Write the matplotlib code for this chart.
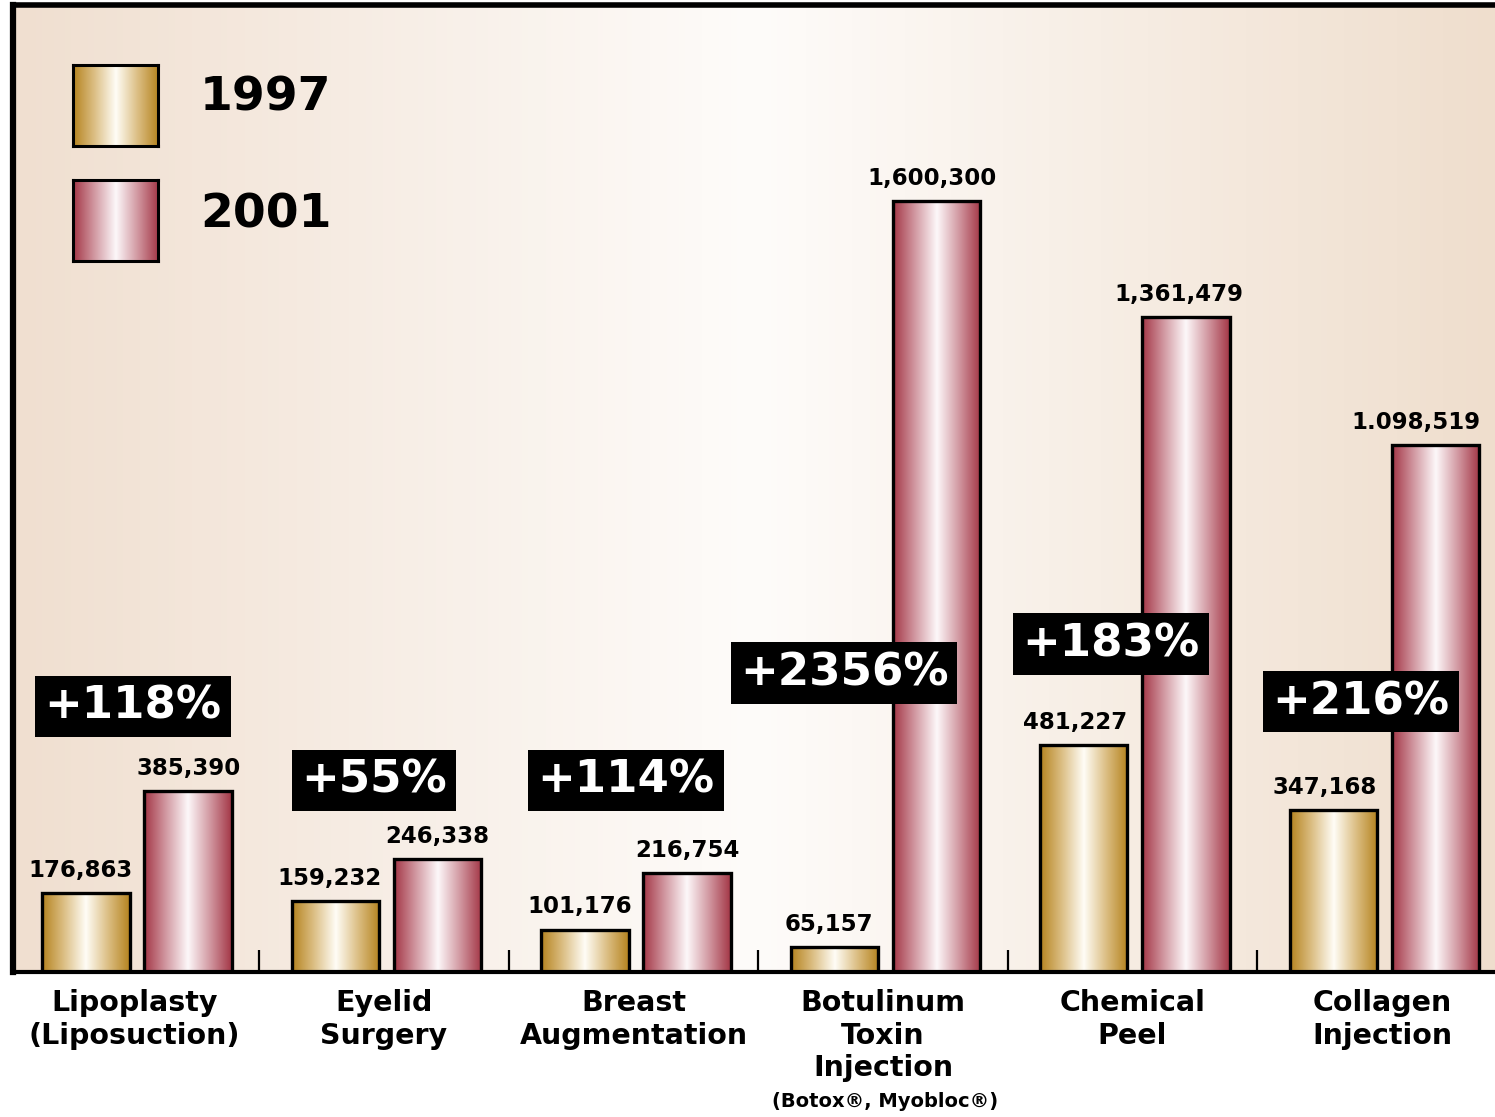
import numpy as np
import matplotlib
matplotlib.use("Agg")
import matplotlib.pyplot as plt
from matplotlib.colors import LinearSegmentedColormap
from matplotlib.transforms import blended_transform_factory

# data
categories = ["Lipoplasty\n(Liposuction)", "Eyelid\nSurgery", "Breast\nAugmentation",
              "Botulinum\nToxin\nInjection", "Chemical\nPeel", "Collagen\nInjection"]
series = ["1997", "2001"]
v1997 = [176863, 159232, 101176, 65157, 481227, 347168]
v2001 = [385390, 246338, 216754, 1600300, 1361479, 1098519]
lab1997 = ["176,863", "159,232", "101,176", "65,157", "481,227", "347,168"]
lab2001 = ["385,390", "246,338", "216,754", "1,600,300", "1,361,479", "1.098,519"]
pct = ["+118%", "+55%", "+114%", "+2356%", "+183%", "+216%"]
footnote = "(Botox\u00ae, Myobloc\u00ae)"

# where the black percent boxes sit (x offset from group centre, y in data units)
pct_dx = [-0.016, -0.05, -0.04, -0.166, -0.096, -0.094]
pct_y = [561000, 408800, 408800, 629000, 688700, 569500]
# small sideways nudges (points) for the value labels
shift1997 = [-4, -4, -4, -4, -6, -6]
shift2001 = [0, 0, 0, -3, -5, -14]

plt.rcParams['font.family'] = ['DejaVu Sans']
plt.rcParams['font.weight'] = 'bold'

gold = LinearSegmentedColormap.from_list('gold', [(0, '#b5831f'), (0.25, '#dcbf85'), (0.5, '#fffdf6'),
                                                   (0.75, '#dcbf85'), (1, '#b5831f')])
maroon = LinearSegmentedColormap.from_list('maroon', [(0, '#a33646'), (0.25, '#d299a2'), (0.5, '#fdf8fa'),
                                                       (0.75, '#d299a2'), (1, '#a33646')])
bg = LinearSegmentedColormap.from_list('bg', [(0, '#f0dfd0'), (0.5, '#fefcfa'), (1, '#efdecd')])
grad = np.linspace(0, 1, 256)[None, :]

fig = plt.figure(figsize=(14.95, 11.17), dpi=100)
ax = fig.add_axes([13/1495, 145/1117, 1482/1495, 967/1117])

xlim = (-0.497, 5.443)
ylim = (13800, 2003500)
ax.imshow(grad, extent=[xlim[0], xlim[1], ylim[0], ylim[1]], aspect='auto', cmap=bg, zorder=0)

x = np.arange(len(categories))
w = 0.35
bars = [ax.bar(x - 0.205, v1997, w, facecolor='none', edgecolor='black', lw=2.4, zorder=3),
        ax.bar(x + 0.205, v2001, w, facecolor='none', edgecolor='black', lw=2.4, zorder=3)]
for cont, cmap, labs, shifts in zip(bars, [gold, maroon], [lab1997, lab2001], [shift1997, shift2001]):
    for p, lab, dx in zip(cont.patches, labs, shifts):
        ax.imshow(grad, extent=[p.get_x(), p.get_x() + p.get_width(), 0, p.get_height()],
                  aspect='auto', cmap=cmap, zorder=2)
        ax.annotate(lab, (p.get_x() + p.get_width() / 2, p.get_height()), xytext=(dx, 8),
                    textcoords='offset points', ha='center', va='bottom', fontsize=16.5)

for i, t in enumerate(pct):
    ax.text(x[i] + pct_dx[i], pct_y[i], t, color='white', fontsize=32.5, ha='center', va='center',
            zorder=5, bbox=dict(boxstyle='square,pad=0.2', fc='black', ec='none'))

ax.set_xlim(*xlim)
ax.set_ylim(*ylim)

ax.spines['right'].set_visible(False)
ax.spines['left'].set_linewidth(4.5)
ax.spines['top'].set_linewidth(4)
ax.spines['bottom'].set_linewidth(3)
ax.set_yticks([])
ax.set_xticks(x[:-1] + 0.49)
ax.tick_params(axis='x', direction='in', length=16, width=1.6, labelbottom=False)

trans = blended_transform_factory(ax.transData, ax.transAxes)
for i, c in enumerate(categories):
    ax.text(x[i] - 0.01, -0.018, c, transform=trans, ha='center', va='top', fontsize=20.5, linespacing=1.19)
ax.text(x[3], -0.124, footnote, transform=trans, ha='center', va='top', fontsize=14)

# legend swatches
for cmap, name, bottom, ty in zip([gold, maroon], series, [0.8693, 0.7663], [0.9123, 0.8075]):
    sw = fig.add_axes([0.0488, bottom, 0.0569, 0.0725])
    sw.imshow(grad, aspect='auto', cmap=cmap)
    sw.set_xticks([])
    sw.set_yticks([])
    for s in sw.spines.values():
        s.set_linewidth(2.2)
    fig.text(0.1338, ty, name, fontsize=34, va='center', ha='left')

fig.savefig('out.png', dpi=100)
